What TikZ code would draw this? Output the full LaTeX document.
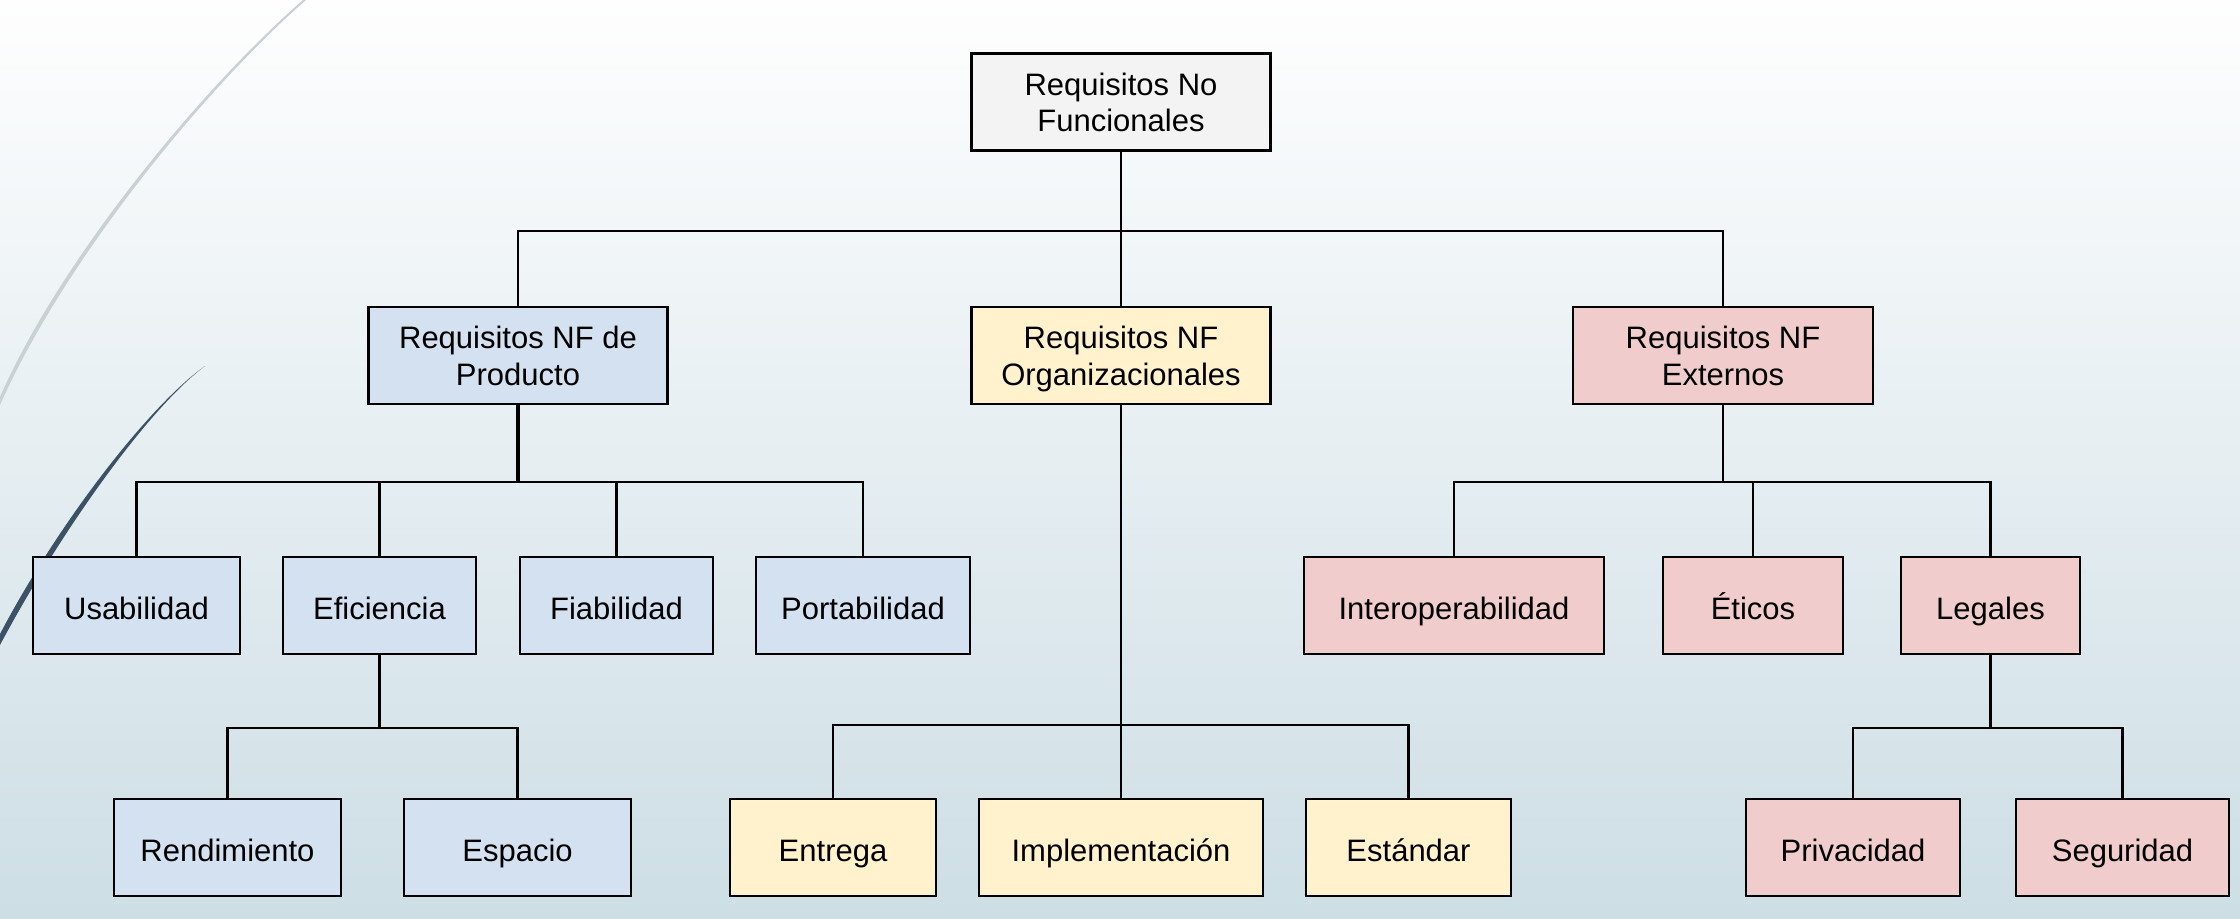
\documentclass[tikz,border=0pt]{standalone}
\usepackage{fontspec}
\setmainfont{Liberation Sans}
\definecolor{fondoarriba}{HTML}{FEFEFE}
\definecolor{fondoabajo}{HTML}{CDDEE5}
\definecolor{gris}{HTML}{F3F3F3}
\definecolor{azul}{HTML}{D4E1F0}
\definecolor{amarillo}{HTML}{FFF2CC}
\definecolor{rojo}{HTML}{F0CDCC}
\definecolor{arcoclaro}{HTML}{C9D1D5}
\definecolor{arcooscuro}{HTML}{3B5166}

\tikzset{
    caja/.style={rectangle,draw,line width=2.3pt,inner sep=0,minimum height=97,align=center,
        font=\fontsize{31}{36.7}\selectfont,text height=32pt,text depth=4pt},
    doble/.style={text height=66pt,text depth=6.6pt},
    raiz/.style={caja,fill=gris,minimum width=299},
    prod/.style={caja,fill=azul},
    org/.style={caja,fill=amarillo},
    ext/.style={caja,fill=rojo},
    rama/.style={line width=2.3pt}
    }

\begin{document}
\begin{tikzpicture}[x=1pt,y=-1pt]
                \useasboundingbox (0,0) rectangle (2240,918);
                % Fondo
                \shade[top color=fondoarriba,bottom color=fondoabajo] (0,0) rectangle (2240,918);
                \fill[arcoclaro] (303,0) .. controls (200,90) and (60,260) .. (0,397)
                    -- (0,405) .. controls (63,263) and (202,91) .. (306,0) -- cycle;
                \fill[arcooscuro] (205,366) .. controls (150,405) and (60,520) .. (0,634)
                    -- (0,645) .. controls (63,527) and (151,406) .. (205,366) -- cycle;

                % El arbol
                \node(rnf)[raiz,doble] at (1121,102) {Requisitos No\\Funcionales};

                \node(prod)[prod,doble,minimum width=299] at (518,355.5) {Requisitos NF de\\Producto};
                \node(org)[org,doble,minimum width=299] at (1121,355.5) {Requisitos NF\\Organizacionales};
                \node(ext)[ext,doble,minimum width=300] at (1723,355.5) {Requisitos NF\\Externos};

                \node(usab)[prod,minimum width=207] at (136.5,605.5) {Usabilidad};
                \node(efic)[prod,minimum width=193] at (379.5,605.5) {Eficiencia};
                \node(fiab)[prod,minimum width=193] at (616.5,605.5) {Fiabilidad};
                \node(port)[prod,minimum width=214] at (863,605.5) {Portabilidad};
                \node(rend)[prod,minimum width=227] at (227.5,847.5) {Rendimiento};
                \node(esp)[prod,minimum width=227] at (517.5,847.5) {Espacio};

                \node(entr)[org,minimum width=206] at (833,847.5) {Entrega};
                \node(impl)[org,minimum width=284] at (1121,847.5) {Implementación};
                \node(estd)[org,minimum width=205] at (1408.5,847.5) {Estándar};

                \node(inter)[ext,minimum width=300] at (1454,605.5) {Interoperabilidad};
                \node(etic)[ext,minimum width=180] at (1753,605.5) {Éticos};
                \node(leg)[ext,minimum width=179] at (1990.5,605.5) {Legales};
                \node(priv)[ext,minimum width=214] at (1853,847.5) {Privacidad};
                \node(seg)[ext,minimum width=213] at (2122.5,847.5) {Seguridad};

                % Ramas
                \foreach \hijo in {prod,org,ext}
                    \draw[rama] (rnf.south) -- ++(0,79) -| (\hijo.north);
                \draw[rama,line width=3.3pt] (prod.south) -- ++(0,77);
                \foreach \hijo in {usab,efic,fiab,port}
                    \draw[rama] (prod.south) -- ++(0,77) -| (\hijo.north);
                \foreach \hijo in {rend,esp}
                    \draw[rama] (efic.south) -- ++(0,73) -| (\hijo.north);
                \foreach \hijo in {entr,impl,estd}
                    \draw[rama] (org.south) -- ++(0,320) -| (\hijo.north);
                \foreach \hijo in {inter,etic,leg}
                    \draw[rama] (ext.south) -- ++(0,77) -| (\hijo.north);
                \foreach \hijo in {priv,seg}
                    \draw[rama] (leg.south) -- ++(0,73) -| (\hijo.north);
            \end{tikzpicture}
\end{document}
